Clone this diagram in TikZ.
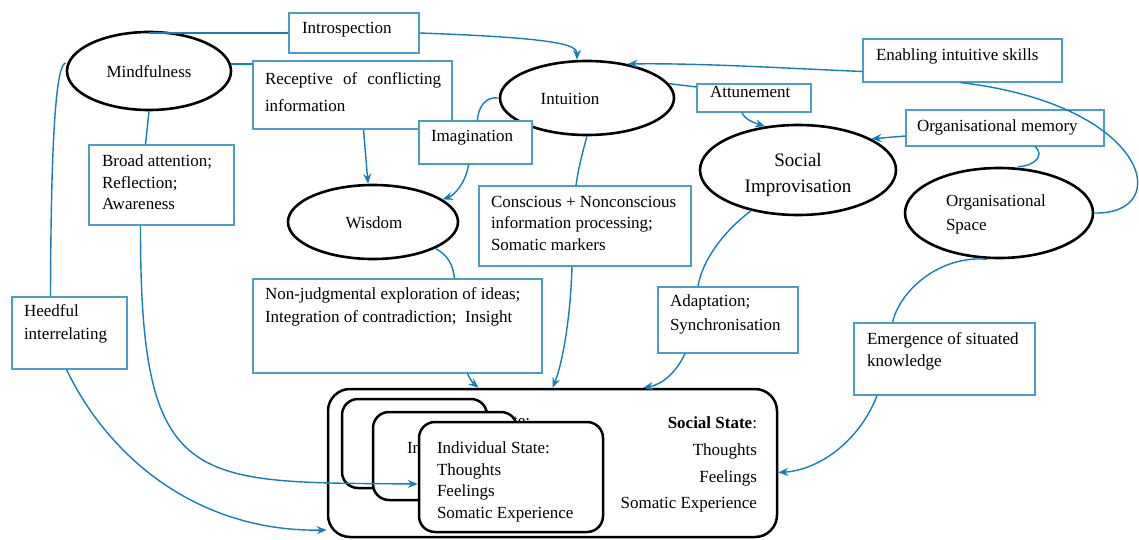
\documentclass[tikz,border=0pt]{standalone}
\usepackage{fontspec}
\setmainfont{Liberation Serif}
\usetikzlibrary{arrows.meta,shapes.geometric}
\definecolor{boxblue}{RGB}{74,158,200}
\definecolor{lineblue}{RGB}{20,126,186}
\tikzset{
  ell/.style={draw=black, line width=2.6pt, ellipse, inner sep=0pt, fill=white},
  bbox/.style={draw=boxblue, line width=1.1pt, rectangle, inner sep=0pt, fill=white},
  txt/.style={inner sep=0pt, outer sep=0pt, align=left, font=\fontsize{17}{21.5}\selectfont},
  conn/.style={draw=lineblue, line width=1.4pt},
  arr/.style={conn, -{Stealth[length=10pt,width=8pt]}},
  stackbox/.style={draw=black, line width=2.5pt, rounded corners=16pt, fill=white, inner sep=0pt},
}
\begin{document}
\begin{tikzpicture}[x=1pt,y=-1pt]
\useasboundingbox (0,0) rectangle (1139,540);

% ---------- ellipses ----------
\node[ell, minimum width=164pt, minimum height=78pt] (mind) at (149,71) {};
\node[txt, font=\fontsize{17}{22}\selectfont] (mind-t) at (149,72) {Mindfulness};
\node[ell, minimum width=174pt, minimum height=74pt] (intu) at (587,98) {};
\node[txt, font=\fontsize{17}{22}\selectfont] (intu-t) at (570,99) {Intuition};
\node[ell, minimum width=170pt, minimum height=74pt] (wis) at (373,222) {};
\node[txt, font=\fontsize{17}{22}\selectfont] (wis-t) at (374,223) {Wisdom};
\node[ell, minimum width=196pt, minimum height=90pt] (si) at (798,170) {};
\node[txt, align=center, font=\fontsize{19}{26}\selectfont] (si-t) at (798,175) {Social\\Improvisation};
\node[ell, minimum width=188pt, minimum height=90pt] (os) at (999,213) {};
\node[txt, anchor=north west, font=\fontsize{17}{24}\selectfont] (os-t) at (946,195) {Organisational\\Space};

% ---------- blue boxes ----------
\node[bbox, minimum width=130pt, minimum height=40pt] (intro) at (354,33) {};
\node[txt, anchor=north west] (intro-t) at (302,22) {Introspection};
\node[bbox, minimum width=199pt, minimum height=68pt] (rec) at (352.5,95) {};
\node[txt, anchor=north west, font=\fontsize{17}{27}\selectfont] (rec-t) at (265,73) {\makebox[176pt][s]{Receptive\hfill of\hfill conflicting}\\information};
\node[bbox, minimum width=113pt, minimum height=43pt] (imag) at (475.5,142.5) {};
\node[txt, anchor=north west] (imag-t) at (431,130) {Imagination};
\node[bbox, minimum width=145pt, minimum height=80pt] (broad) at (161.5,185) {};
\node[txt, anchor=north west] (broad-t) at (102,155) {Broad attention;\\Reflection;\\Awareness};
\node[bbox, minimum width=212pt, minimum height=80pt] (cons) at (585,226) {};
\node[txt, anchor=north west] (cons-t) at (491,196) {Conscious + Nonconscious\\information processing;\\Somatic markers};
\node[bbox, minimum width=114pt, minimum height=28pt] (attun) at (754,98) {};
\node[txt, anchor=north west] (attun-t) at (710,86) {Attunement};
\node[bbox, minimum width=199pt, minimum height=43pt] (enab) at (962.5,60.5) {};
\node[txt, anchor=north west] (enab-t) at (876,49) {Enabling intuitive skills};
\node[bbox, minimum width=198pt, minimum height=36pt] (orgmem) at (1005,128) {};
\node[txt, anchor=north west] (orgmem-t) at (917,120) {Organisational memory};
\node[bbox, minimum width=289pt, minimum height=94pt] (nonj) at (397.5,326) {};
\node[txt, anchor=north west, font=\fontsize{17}{23}\selectfont] (nonj-t) at (265,288) {Non-judgmental exploration of ideas;\\Integration of contradiction;\ \ Insight};
\node[bbox, minimum width=115pt, minimum height=72pt] (heed) at (69.5,333) {};
\node[txt, anchor=north west, font=\fontsize{17}{23}\selectfont] (heed-t) at (24,305) {Heedful\\interrelating};
\node[bbox, minimum width=140pt, minimum height=66pt] (adapt) at (728,320) {};
\node[txt, anchor=north west, font=\fontsize{17}{24}\selectfont] (adapt-t) at (670,295) {Adaptation;\\Synchronisation};
\node[bbox, minimum width=181pt, minimum height=72pt] (emerg) at (944.5,359) {};
\node[txt, anchor=north west, font=\fontsize{17}{22}\selectfont] (emerg-t) at (867,333) {Emergence of situated\\knowledge};

% ---------- states ----------
\node[stackbox, rounded corners=22pt, minimum width=449pt, minimum height=148pt] (soc) at (552.5,463) {};
\node[txt, anchor=north east, align=right, font=\fontsize{17}{26.7}\selectfont] (soc-t) at (757,417) {\textbf{Social State}:\\Thoughts\\Feelings\\Somatic Experience};
\node[stackbox, minimum width=145pt, minimum height=89pt] (ind1) at (414.5,443.5) {};
\node[txt, anchor=north east] (ind1-t) at (530,415) {Individual State:};
\node[stackbox, minimum width=144pt, minimum height=88pt] (ind2) at (445,456) {};
\node[txt, anchor=north west] (ind2-t) at (407,442) {Individual State:};
\node[stackbox, minimum width=184pt, minimum height=110pt] (ind3) at (511,477) {};
\node[txt, anchor=north west] (ind3-t) at (437,442) {Individual State:\\Thoughts\\Feelings\\Somatic Experience};

% ---------- connectors ----------
\draw[conn] (intro.west) -- (intro.west -| mind.north);
\draw[arr] (intro.east) .. controls (560,38) and (577,45) .. ([xshift=-10pt]intu.north);
\draw[conn] (mind.5) -- (rec.west |- mind.5);
\draw[arr] ([xshift=11pt]rec.south) -- ([xshift=-5pt]wis.north);
\draw[conn] (intu.west) .. controls (485,96) and (478,108) .. ([xshift=2pt]imag.north);
\draw[arr] ([xshift=-7pt]imag.south) .. controls (466,182) and (455,195) .. (wis.18);
\draw[conn] (intu.south) .. controls (583,150) and (578,170) .. ([xshift=-9pt]cons.north);
\draw[arr] ([xshift=-13pt]cons.south) .. controls (570,330) and (560,370) .. (soc.north);
\draw[conn] (wis.-23) .. controls (448,255) and (453,265) .. ([xshift=57pt]nonj.north);
\draw[arr] ([xshift=70pt]nonj.south) .. controls (470,380) and (474,384) .. ([xshift=-74pt]soc.north);
\draw[conn] (mind.south) -- ([xshift=-16pt]broad.north);
\draw[arr] ([xshift=-21pt]broad.south) .. controls (140,490) and (190,482) .. ([yshift=-7pt]ind3.west);
\draw[conn] ([yshift=8pt]mind.west) .. controls (58,64) and (51,110) .. ([xshift=-19pt]heed.north);
\draw[arr] ([xshift=-3pt]heed.south) .. controls (110,460) and (200,532) .. ([yshift=-67pt]soc.east -| soc.west);
\draw[conn] (si.-139) .. controls (725,230) and (702,260) .. ([xshift=-30pt]adapt.north);
\draw[arr] ([xshift=-43pt]adapt.south) .. controls (675,375) and (660,385) .. ([xshift=90.5pt]soc.north);
\draw[conn] (intu.10) -- ([yshift=11pt]attun.west);
\draw[arr] ([xshift=-12pt]attun.south) .. controls (745,120) and (755,123) .. (si.127);
\draw[conn] (os.east) .. controls (1175,215) and (1150,105) .. ([xshift=-2pt]enab.south);
\draw[arr] ([yshift=-11pt]enab.west) .. controls (780,68) and (700,63) .. (intu.40);
\draw[arr] ([yshift=-8pt]orgmem.west) -- (si.23);
\draw[conn] ([xshift=30pt]orgmem.south) .. controls (1045,155) and (1035,166) .. ([xshift=19pt]os.north);
\draw[conn] ([xshift=-12pt]os.south) .. controls (940,255) and (900,290) .. ([xshift=-52pt]emerg.north);
\draw[arr] ([xshift=-67.5pt]emerg.south) .. controls (860,440) and (820,470) .. ([yshift=-9.5pt]soc.east);
\end{tikzpicture}
\end{document}
